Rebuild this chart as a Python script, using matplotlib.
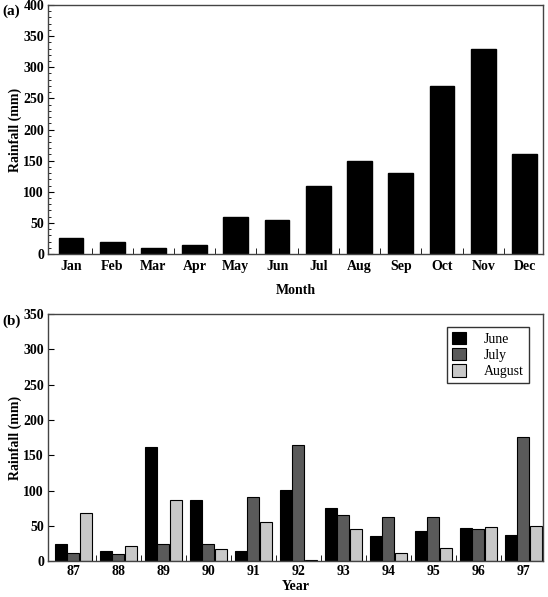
import matplotlib.pyplot as plt
import numpy as np
from matplotlib.ticker import MultipleLocator

plt.rcParams['font.family'] = ['Liberation Serif', 'DejaVu Serif']
plt.rcParams['font.weight'] = 'bold'
plt.rcParams['axes.labelweight'] = 'bold'

months = ["Jan", "Feb", "Mar", "Apr", "May", "Jun", "Jul", "Aug", "Sep", "Oct", "Nov", "Dec"]
monthly_rain = [25, 20, 10, 15, 60, 55, 110, 150, 130, 270, 330, 160]

years = ["87", "88", "89", "90", "91", "92", "93", "94", "95", "96", "97"]
june = [24, 14, 161, 86, 14, 101, 76, 36, 43, 47, 37]
july = [12, 10, 24, 24, 91, 165, 65, 62, 62, 45, 176]
august = [68, 22, 86, 17, 56, 2, 45, 12, 19, 48, 50]

fig = plt.figure(figsize=(5.48, 5.97), dpi=100)
ax1 = fig.add_axes([0.088, 0.5745, 0.903, 0.4171])
ax2 = fig.add_axes([0.088, 0.060, 0.903, 0.414])

# (a) monthly
x = np.arange(len(months))
ax1.bar(x, monthly_rain, width=0.6, color="black", edgecolor="black")
ax1.set_xlim(-0.55, 11.45)
ax1.set_ylim(0, 400)
ax1.yaxis.set_major_locator(MultipleLocator(50))
ax1.yaxis.set_minor_locator(MultipleLocator(10))
ax1.set_xticks(x)
ax1.set_xticklabels(months)
ax1.set_xticks(x[:-1] + 0.5, minor=True)
ax1.set_xlabel("Month", labelpad=8)
ax1.set_ylabel("Rainfall (mm)", labelpad=1)

# (b) summer months by year
x2 = np.arange(len(years))
w = 0.27
ax2.bar(x2 - 0.28, june, width=w, color="black", edgecolor="black", linewidth=0.8, label="June")
ax2.bar(x2, july, width=w, color="#5a5a5a", edgecolor="black", linewidth=0.8, label="July")
ax2.bar(x2 + 0.28, august, width=w, color="#c8c8c8", edgecolor="black", linewidth=0.8, label="August")
ax2.set_xlim(-0.56, 10.44)
ax2.set_ylim(0, 350)
ax2.yaxis.set_major_locator(MultipleLocator(50))
ax2.set_xticks(x2)
ax2.set_xticklabels(years)
ax2.set_xticks(x2[:-1] + 0.5, minor=True)
ax2.set_xlabel("Year", labelpad=1)
ax2.set_ylabel("Rainfall (mm)", labelpad=1)
leg = ax2.legend(loc="upper right", fancybox=False, edgecolor="black", fontsize=10,
                 handlelength=1.0, handleheight=1.0, borderpad=0.35, labelspacing=0.15,
                 handletextpad=1.3, bbox_to_anchor=(0.985, 0.975))
leg.get_frame().set_linewidth(1.0)
for t in leg.get_texts():
    t.set_fontweight("normal")

for ax in (ax1, ax2):
    for s in ax.spines.values():
        s.set_color("#444444")
        s.set_linewidth(1.0)
    ax.tick_params(axis="both", which="both", direction="in", labelsize=10)
    ax.tick_params(axis="x", which="major", length=0, pad=4)
    ax.tick_params(axis="x", which="minor", length=4)
    ax.tick_params(axis="y", which="major", length=4, pad=3)
    ax.tick_params(axis="y", which="minor", length=2)
    ax.yaxis.label.set_size(10)
    ax.xaxis.label.set_size(10)
ax2.tick_params(axis="x", which="major", pad=3)

fig.text(0.004, 0.992, "(a)", fontsize=11, fontweight="bold", va="top")
fig.text(0.004, 0.473, "(b)", fontsize=11, fontweight="bold", va="top")

fig.savefig("out.png", dpi=100)
